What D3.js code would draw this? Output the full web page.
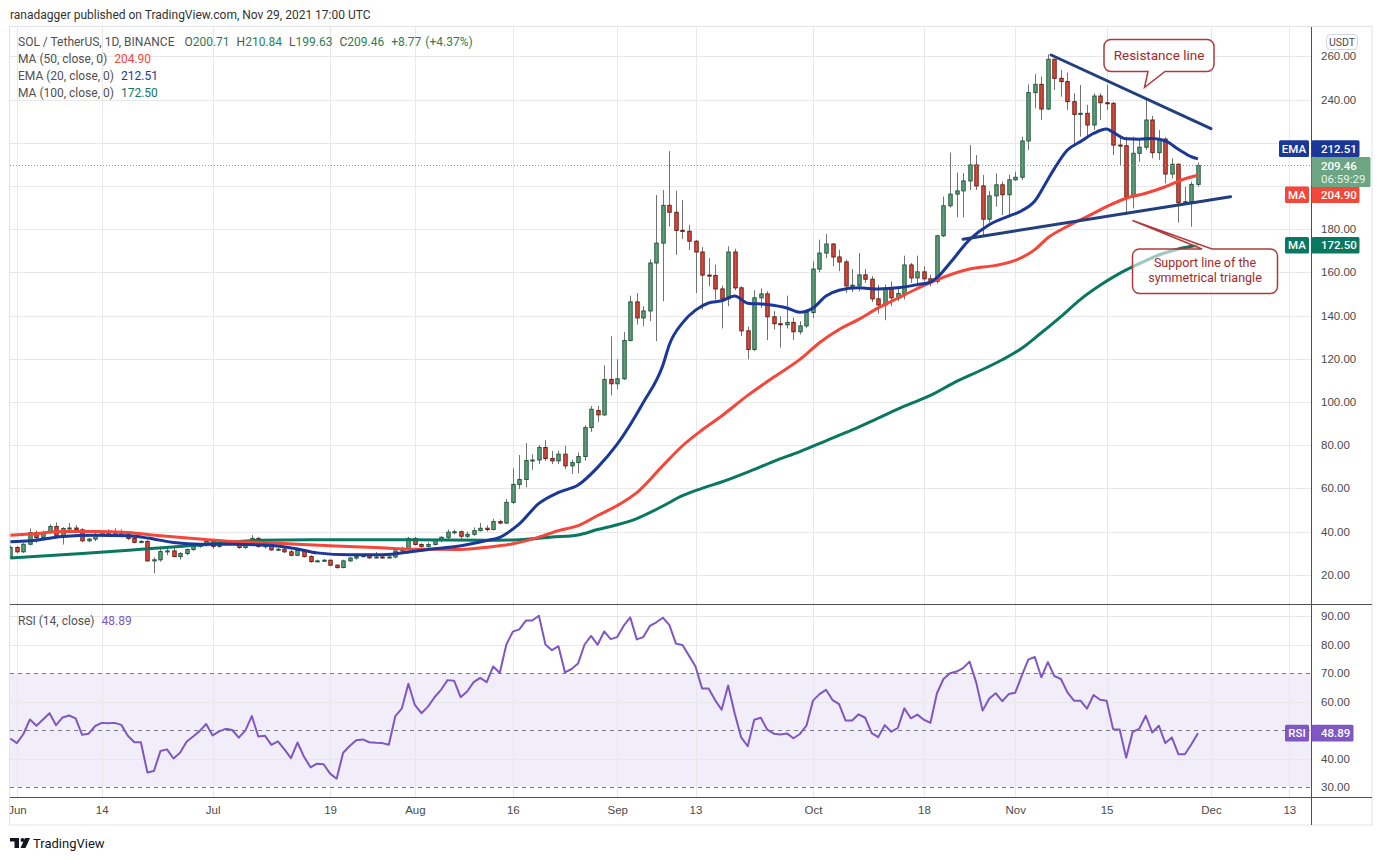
<!DOCTYPE html>
<html>
<head>
<meta charset="utf-8">
<title>SOL / TetherUS, 1D, BINANCE</title>
<script src="https://cdn.jsdelivr.net/npm/d3@7/dist/d3.min.js"></script>
<style>
  body { margin: 0; background: #fff; }
  svg { display: block; font-family: Roboto, "Liberation Sans", sans-serif; }
  .axis text { font-size: 11.5px; fill: #4a4a4a; }
</style>
</head>
<body>
<svg id="chart" width="1383" height="860"></svg>
<script>
// ---- data ----
// daily candles, first one is May 31 2021 (day -1, half cut by the left edge), last is Nov 29
var firstDay = -1;
var opens = [
  28.0,32.6,30.6,34.1,39.5,37.2,39.5,42.3,38.0,41.4,
  41.6,40.8,35.7,36.5,38.5,39.5,39.6,39.5,38.8,36.8,
  35.0,35.4,26.4,26.9,30.7,31.0,28.4,29.8,31.7,33.1,
  34.1,35.4,33.1,34.1,34.5,34.4,32.6,34.0,36.8,33.1,
  33.4,31.5,31.8,30.6,29.0,31.2,28.4,26.1,26.4,26.7,
  24.4,23.3,26.4,27.7,28.4,28.8,27.8,28.2,28.0,28.2,
  31.0,32.1,36.8,34.0,33.1,34.0,35.9,37.3,39.7,39.9,
  37.8,38.7,40.4,41.5,40.9,44.6,43.9,53.5,61.8,64.1,
  72.9,73.1,78.9,73.8,72.7,75.8,70.4,71.9,74.7,88.1,
  96.0,94.0,110.4,108.4,110.7,128.4,146.3,138.9,142.1,164.3,
  173.5,191.0,187.8,179.4,179.0,174.4,169.4,158.7,158.5,152.3,
  147.7,169.4,152.8,132.9,124.3,148.2,150.0,139.4,136.2,135.7,
  136.8,132.5,135.2,141.4,161.5,168.9,173.1,167.1,164.8,153.7,
  154.0,158.8,156.8,147.7,144.9,152.3,148.2,150.2,163.4,157.4,
  160.2,157.0,155.8,176.9,190.8,196.2,197.7,202.3,209.7,200.0,
  184.6,195.4,200.5,195.9,202.8,204.0,220.8,243.2,247.0,235.6,
  258.6,249.8,248.3,239.0,233.1,233.6,228.2,241.6,238.5,238.2,
  218.9,218.6,195.0,215.1,217.9,230.5,215.4,221.7,205.5,210.0,
  192.2,192.7,200.71
];
var highs = [
  33.5,33.2,34.6,41.4,40.5,40.4,43.4,44.2,42.0,43.9,
  43.0,41.5,37.0,39.5,40.0,41.0,41.5,41.0,39.5,37.5,
  36.0,36.0,28.0,33.0,32.5,33.0,30.5,32.0,34.0,34.5,
  36.5,36.0,35.0,35.5,35.5,35.0,35.0,38.3,37.5,34.5,
  33.8,32.5,32.8,31.5,32.0,31.8,29.0,27.0,27.3,27.0,
  24.8,27.0,28.2,29.2,29.5,29.5,30.5,29.0,29.0,31.5,
  33.0,37.5,37.5,34.5,35.0,36.5,37.8,40.9,40.8,40.5,
  40.0,41.9,44.0,42.8,45.9,45.5,55.0,69.2,75.4,80.9,
  75.8,80.0,82.3,77.3,77.3,79.7,73.2,76.6,89.2,98.1,
  98.1,116.9,130.4,119.7,132.3,149.2,150.4,144.3,166.1,195.8,
  198.1,216.1,197.7,193.5,182.0,175.0,171.7,166.6,163.5,153.8,
  172.0,170.9,153.5,134.8,151.7,152.5,151.2,142.0,139.7,149.2,
  139.0,137.4,142.8,165.1,175.1,177.7,173.5,170.5,165.8,161.5,
  168.9,161.5,158.2,154.2,154.3,155.8,153.5,167.7,164.3,167.7,
  162.8,158.9,177.4,195.1,215.4,206.2,205.9,218.9,214.3,205.1,
  197.6,205.8,202.0,205.1,206.6,222.8,247.0,251.7,250.6,260.9,
  258.9,253.7,252.4,242.9,246.7,237.5,242.9,242.9,246.7,239.0,
  222.8,222.8,222.8,221.2,240.5,232.4,225.9,222.5,212.8,210.5,
  199.6,202.0,210.84
];
var lows = [
  27.5,30.0,30.0,33.5,34.8,36.0,39.0,37.5,34.0,40.3,
  40.0,35.0,35.0,35.5,37.5,38.5,38.0,38.0,36.0,34.5,
  34.5,26.0,20.6,26.0,29.0,28.0,27.0,29.0,31.0,32.5,
  33.0,32.0,32.5,33.5,33.8,32.0,32.0,33.5,32.5,32.0,
  31.0,31.0,30.0,28.5,28.5,28.0,25.5,25.8,26.0,24.0,
  22.8,23.0,26.0,27.0,28.0,27.3,27.5,27.5,27.6,27.5,
  30.5,31.5,33.5,32.5,32.5,33.5,35.0,36.5,38.6,36.5,
  37.0,38.0,40.0,40.0,40.5,43.3,43.5,52.8,59.7,60.5,
  68.6,71.2,72.7,71.2,71.2,68.9,66.6,66.9,72.7,86.1,
  90.7,93.5,103.0,105.8,110.1,128.1,135.8,135.0,137.4,128.1,
  146.6,181.2,168.1,175.4,170.4,150.4,142.7,153.5,147.4,134.0,
  144.3,151.7,130.5,119.7,123.5,143.5,128.6,133.5,125.1,134.0,
  128.6,131.2,134.3,138.9,160.0,166.6,162.8,160.5,150.5,150.9,
  151.2,155.1,146.2,140.9,137.8,144.3,146.6,147.4,155.1,153.5,
  155.8,153.5,154.8,176.3,190.0,185.5,185.5,198.1,198.1,176.5,
  183.2,190.4,186.5,186.5,202.4,202.7,216.6,235.9,230.5,235.1,
  244.4,241.3,235.1,218.2,222.8,222.0,225.9,230.5,235.1,214.3,
  209.7,186.5,189.6,211.2,216.6,212.8,212.0,201.2,203.5,183.0,
  191.9,181.1,199.63
];
var closes = [
  32.6,30.6,34.1,39.5,37.2,39.5,42.3,38.0,41.4,41.6,
  40.8,35.7,36.5,38.5,39.5,39.6,39.5,38.8,36.8,35.0,
  35.4,26.4,26.9,30.7,31.0,28.4,29.8,31.7,33.1,34.1,
  35.4,33.1,34.1,34.5,34.4,32.6,34.0,36.8,33.1,33.4,
  31.5,31.8,30.6,29.0,31.2,28.4,26.1,26.4,26.7,24.4,
  23.3,26.4,27.7,28.4,28.8,27.8,28.2,28.0,28.2,31.0,
  32.1,36.8,34.0,33.1,34.0,35.9,37.3,39.7,39.9,37.8,
  38.7,40.4,41.5,40.9,44.6,43.9,53.5,61.8,64.1,72.9,
  73.1,78.9,73.8,72.7,75.8,70.4,71.9,74.7,88.1,96.6,
  94.0,110.4,108.4,110.7,128.4,146.3,138.9,142.1,164.3,173.5,
  191.0,187.8,179.4,179.0,174.4,169.4,158.7,158.5,152.3,147.7,
  169.4,152.8,132.9,124.3,148.2,150.0,139.4,136.2,135.7,136.8,
  132.5,135.2,141.4,161.5,168.9,173.1,167.1,164.8,153.7,154.0,
  158.8,156.8,147.7,144.9,152.3,148.2,150.2,163.4,157.4,160.2,
  157.0,155.8,176.9,190.8,196.2,197.7,202.3,209.7,200.0,184.6,
  195.4,200.5,195.9,202.8,204.0,220.8,243.2,247.0,235.6,258.6,
  249.8,248.3,239.0,233.1,233.6,228.2,241.6,238.5,238.2,218.9,
  218.6,195.0,215.1,217.9,230.5,215.4,221.7,205.5,210.0,192.2,
  192.7,200.69,209.46
];
// RSI(14) per candle, same days
var rsiValues = [
  47.0,45.4,48.6,53.7,51.5,53.7,55.9,51.7,54.4,55.1,
  54.1,48.3,48.7,51.4,52.5,52.4,52.5,51.8,48.0,45.7,
  45.7,35.1,35.6,42.6,43.2,40.0,42.0,45.9,47.7,49.6,
  52.1,48.1,49.5,50.4,50.0,47.3,49.8,54.9,47.7,48.0,
  44.8,46.0,43.2,40.1,45.6,40.6,36.9,38.2,38.0,34.7,
  32.9,42.0,44.4,46.4,46.7,45.7,45.5,45.4,44.8,54.9,
  57.6,66.2,58.7,55.9,58.2,61.5,64.1,67.5,67.3,61.5,
  63.5,66.8,68.3,66.8,72.3,70.0,79.9,84.5,85.3,88.4,
  88.4,90.1,80.0,78.0,79.4,70.2,71.4,73.3,80.0,83.0,
  79.9,84.6,81.9,82.6,86.6,89.5,81.8,82.6,86.5,87.8,
  89.4,86.8,80.3,79.8,76.1,72.3,64.6,64.6,60.5,57.1,
  65.6,55.9,47.4,44.3,53.6,54.3,50.1,48.7,48.4,48.8,
  47.1,48.6,51.5,60.3,62.6,64.1,60.5,59.1,53.3,53.3,
  55.5,54.3,48.9,47.5,51.7,49.4,50.7,57.6,54.1,55.4,
  53.6,52.5,62.9,67.9,69.9,70.5,71.7,74.0,66.8,56.8,
  61.0,62.9,60.1,62.6,63.1,69.1,74.7,75.6,68.5,73.8,
  68.9,67.9,63.2,60.3,60.3,57.5,62.3,60.6,60.3,50.3,
  50.2,40.3,49.4,50.4,55.0,49.1,51.5,45.4,47.4,41.5,
  41.5,45.0,48.89
];
// moving averages, [day since Jun 1, value]
var ema20 = [[-1,35.2],[2,35.7],[7,37.7],[12,38.3],[17,38.0],[20,37.0],[24,34.9],[28,34.1],[33,34.1],
  [38,33.7],[43,31.9],[46,30.1],[51,29.2],[56,29.2],[61,30.9],[64,32.0],[67,32.9],[72,35.8],[74,37.3],
  [75,39.0],[77,43.5],[80,53.0],[83,58.1],[86,61.5],[89,69.7],[92,80.4],[96,99.7],[99,117.0],[100,126.6],
  [102,136.6],[104,142.5],[106,145.8],[108,146.8],[110,149.0],[112,145.7],[115,145.1],[118,143.5],
  [120,141.5],[122,143.5],[124,149.0],[126,151.7],[129,152.8],[132,152.3],[135,152.8],[138,154.3],
  [140,155.5],[141,157.5],[143,164.3],[146,175.1],[149,182.0],[152,186.0],[154,188.5],[156,193.0],
  [158,203.0],[159,208.0],[161,216.6],[163,220.5],[165,224.3],[167,226.3],[168,224.8],[170,221.8],
  [172,221.6],[174,222.0],[176,220.8],[178,217.0],[180,213.5],[181,212.51]];
var ma50 = [[-1,38.3],[2,38.8],[7,40.0],[12,40.0],[17,39.5],[22,38.0],[28,36.5],[33,35.4],[38,34.9],
  [43,34.1],[48,33.4],[55,32.6],[61,31.8],[68,31.7],[72,32.7],[76,34.3],[80,37.4],[83,40.4],[86,42.7],
  [89,47.4],[92,52.0],[95,58.0],[99,70.5],[102,79.7],[105,87.0],[108,93.5],[112,103.0],[116,111.5],
  [120,119.7],[123,127.4],[126,133.5],[129,138.2],[132,143.5],[135,148.0],[138,152.5],[141,156.5],
  [146,161.5],[150,163.2],[153,165.5],[156,170.5],[158,176.0],[161,181.3],[164,185.8],[167,190.4],
  [170,194.3],[173,196.6],[176,199.6],[179,203.3],[181,204.90]];
var ma100 = [[-1,27.7],[10,29.8],[20,32.0],[29,34.0],[37,35.9],[45,36.2],[60,36.2],[72,36.0],[77,36.2],
  [82,37.4],[86,38.4],[89,40.9],[92,43.1],[95,46.0],[99,51.8],[102,56.6],[105,60.0],[108,62.9],
  [112,67.5],[116,72.5],[120,77.0],[124,82.0],[128,87.0],[132,92.5],[136,98.0],[140,103.0],[144,109.5],
  [148,115.0],[151,119.5],[154,124.8],[157,132.0],[160,139.5],[163,147.5],[166,154.0],[169,159.5],
  [172,164.0],[175,168.0],[178,170.8],[181,172.50]];
// drawn trend lines, [day, price]
var resistanceLine = [[158.5, 260.6], [183, 226.5]];
var supportLine = [[145, 175.3], [186, 195.0]];

var priceTicks = [20, 40, 60, 80, 100, 120, 140, 160, 180, 200, 220, 240, 260];
var rsiTicks = [30, 40, 50, 60, 70, 80, 90];
var timeTickDays = [0, 13, 30, 48, 61, 76, 92, 104, 122, 139, 153, 167, 183, 195];
var timeLabels = ["Jun", "14", "Jul", "19", "Aug", "16", "Sep", "13", "Oct", "18", "Nov", "15", "Dec", "13"];

// ---- layout ----
var left = 10, axisX = 1311, outerRight = 1372;
var paneTop = 27, paneBottom = 604, rsiTop = 605, rsiBottom = 797, boxBottom = 825;

var day0 = new Date(Date.UTC(2021, 5, 1));
function dayDate(d) { return new Date(+day0 + d * 864e5); }

var x = d3.scaleUtc().domain([dayDate(0), dayDate(195)]).range([16.9, 1289.3]);
var y = d3.scaleLinear().domain([20, 260]).range([574.7, 56.3]);
var yR = d3.scaleLinear().domain([30, 90]).range([787, 616]);
function xd(d) { return x(dayDate(d)); }
function px(v) { return Math.round(v) + 0.5; }

var upFill = "#5f9f7c", upLine = "#22593c", downFill = "#d94b3b", downLine = "#6b1d16";
var emaColor = "#1b3797", ma50Color = "#f4473a", ma100Color = "#0a7760", rsiColor = "#7e57c2";
var gridColor = "#e8e8eb", textGray = "#505050";

var svg = d3.select("#chart");
var defs = svg.append("defs");
defs.append("clipPath").attr("id", "clipPrice").append("rect")
  .attr("x", left).attr("y", paneTop).attr("width", axisX - left).attr("height", paneBottom - paneTop);
defs.append("clipPath").attr("id", "clipRsi").append("rect")
  .attr("x", left).attr("y", rsiTop).attr("width", axisX - left).attr("height", rsiBottom - rsiTop);
defs.append("clipPath").attr("id", "clipTime").append("rect")
  .attr("x", left).attr("y", rsiBottom).attr("width", axisX - left).attr("height", boxBottom - rsiBottom);

svg.append("rect").attr("width", 1383).attr("height", 860).attr("fill", "#fff");

// header line above the chart
svg.append("text").attr("x", 10).attr("y", 19)
  .attr("font-size", 12).attr("fill", "#333")
  .text("ranadagger published on TradingView.com, Nov 29, 2021 17:00 UTC");

// ---- grid ----
var grid = svg.append("g");
// RSI band first, grid goes over it
grid.append("rect").attr("x", left).attr("width", axisX - left)
  .attr("y", yR(70)).attr("height", yR(30) - yR(70)).attr("fill", "rgba(126,87,194,0.1)");
grid.selectAll("line.v").data(timeTickDays).join("line")
  .attr("x1", function(d) { return px(xd(d)); }).attr("x2", function(d) { return px(xd(d)); })
  .attr("y1", paneTop).attr("y2", rsiBottom)
  .attr("stroke", gridColor);
grid.selectAll("line.hp").data(priceTicks).join("line")
  .attr("x1", left).attr("x2", axisX)
  .attr("y1", function(d) { return px(y(d)); }).attr("y2", function(d) { return px(y(d)); })
  .attr("stroke", gridColor);
grid.selectAll("line.hr").data([40, 60, 80, 90]).join("line")
  .attr("x1", left).attr("x2", axisX)
  .attr("y1", function(d) { return px(yR(d)); }).attr("y2", function(d) { return px(yR(d)); })
  .attr("stroke", gridColor);
grid.selectAll("line.dash").data([30, 50, 70]).join("line")
  .attr("x1", left).attr("x2", axisX)
  .attr("y1", function(d) { return px(yR(d)); }).attr("y2", function(d) { return px(yR(d)); })
  .attr("stroke", "#787b86").attr("stroke-dasharray", "4,4");

// ---- price pane ----
var price = svg.append("g").attr("clip-path", "url(#clipPrice)");

var candleData = closes.map(function(c, i) {
  return { day: firstDay + i, o: opens[i], h: highs[i], l: lows[i], c: c };
});

var candle = price.append("g").selectAll("g").data(candleData).join("g");
candle.append("line")
  .attr("x1", function(d) { return px(xd(d.day)); })
  .attr("x2", function(d) { return px(xd(d.day)); })
  .attr("y1", function(d) { return y(d.h); })
  .attr("y2", function(d) { return y(d.l); })
  .attr("stroke", "#737373");
candle.append("rect")
  .attr("x", function(d) { return px(xd(d.day)) - 1.7; })
  .attr("width", 3.4)
  .attr("y", function(d) { return y(Math.max(d.o, d.c)); })
  .attr("height", function(d) { return Math.max(1, Math.abs(y(d.o) - y(d.c))); })
  .attr("fill", function(d) { return d.c >= d.o ? upFill : downFill; })
  .attr("stroke", function(d) { return d.c >= d.o ? upLine : downLine; })
  .attr("stroke-width", 1);

var lastClose = closes[closes.length - 1];
price.append("line")
  .attr("x1", left).attr("x2", axisX)
  .attr("y1", px(y(lastClose))).attr("y2", px(y(lastClose)))
  .attr("stroke", "#6ba583").attr("stroke-dasharray", "1,2");

var maLine = d3.line()
  .x(function(d) { return xd(d[0]); })
  .y(function(d) { return y(d[1]); })
  .curve(d3.curveMonotoneX);

price.append("path").datum(ma100).attr("d", maLine)
  .attr("fill", "none").attr("stroke", ma100Color).attr("stroke-width", 3);
price.append("path").datum(ma50).attr("d", maLine)
  .attr("fill", "none").attr("stroke", ma50Color).attr("stroke-width", 3);
price.append("path").datum(ema20).attr("d", maLine)
  .attr("fill", "none").attr("stroke", emaColor).attr("stroke-width", 3);

// trend lines drawn by the author
[resistanceLine, supportLine].forEach(function(seg) {
  price.append("line")
    .attr("x1", xd(seg[0][0])).attr("y1", y(seg[0][1]))
    .attr("x2", xd(seg[1][0])).attr("y2", y(seg[1][1]))
    .attr("stroke", "#213f7e").attr("stroke-width", 3).attr("stroke-linecap", "round");
});

// callouts
function roundedBox(x0, y0, x1, y1, r, tail) {
  // tail: {edge: "top"|"bottom", a, b, tx, ty}
  var p = d3.path();
  p.moveTo(x0 + r, y0);
  if (tail && tail.edge === "top") { p.lineTo(tail.a, y0); p.lineTo(tail.tx, tail.ty); p.lineTo(tail.b, y0); }
  p.lineTo(x1 - r, y0);
  p.arcTo(x1, y0, x1, y0 + r, r);
  p.lineTo(x1, y1 - r);
  p.arcTo(x1, y1, x1 - r, y1, r);
  if (tail && tail.edge === "bottom") { p.lineTo(tail.b, y1); p.lineTo(tail.tx, tail.ty); p.lineTo(tail.a, y1); }
  p.lineTo(x0 + r, y1);
  p.arcTo(x0, y1, x0, y1 - r, r);
  p.lineTo(x0, y0 + r);
  p.arcTo(x0, y0, x0 + r, y0, r);
  p.closePath();
  return p.toString();
}
var notes = svg.append("g");
notes.append("path")
  .attr("d", roundedBox(1104, 39.5, 1214, 71.5, 7, { edge: "bottom", a: 1148, b: 1165, tx: 1144.5, ty: 87.5 }))
  .attr("fill", "rgba(255,255,255,0.9)").attr("stroke", "#b03a3a").attr("stroke-width", 1.5);
notes.append("text").attr("x", 1159).attr("y", 60)
  .attr("text-anchor", "middle").attr("font-size", 13.5).attr("fill", "#a32a2a")
  .text("Resistance line");
notes.append("path")
  .attr("d", roundedBox(1132.5, 249, 1277.5, 293.5, 7, { edge: "top", a: 1202, b: 1212, tx: 1132.5, ty: 220.5 }))
  .attr("fill", "rgba(255,255,255,0.6)").attr("stroke", "#b03a3a").attr("stroke-width", 1.5);
notes.append("text").attr("text-anchor", "middle").attr("font-size", 12.5).attr("fill", "#a32a2a")
  .selectAll("tspan").data(["Support line of the", "symmetrical triangle"]).join("tspan")
  .attr("x", 1205).attr("y", function(d, i) { return 266.5 + i * 15; })
  .text(function(d) { return d; });

// ---- RSI pane ----
var rsiPane = svg.append("g").attr("clip-path", "url(#clipRsi)");
var rsiLine = d3.line()
  .x(function(d, i) { return xd(firstDay + i); })
  .y(function(d) { return yR(d); });
rsiPane.append("path").datum(rsiValues).attr("d", rsiLine)
  .attr("fill", "none").attr("stroke", rsiColor).attr("stroke-width", 2).attr("stroke-linejoin", "round");

// ---- frame ----
var frame = svg.append("g");
frame.append("rect").attr("x", 9.5).attr("y", 26.5).attr("width", outerRight - 9.5).attr("height", boxBottom - 26.5)
  .attr("fill", "none").attr("stroke", "#e0e3eb");
frame.append("line").attr("x1", left).attr("x2", outerRight).attr("y1", 604.5).attr("y2", 604.5).attr("stroke", "#4f4f4f");
frame.append("line").attr("x1", left).attr("x2", outerRight).attr("y1", 797.5).attr("y2", 797.5).attr("stroke", "#4f4f4f");
frame.append("line").attr("x1", axisX + 0.5).attr("x2", axisX + 0.5).attr("y1", 27).attr("y2", boxBottom).attr("stroke", "#4f4f4f");

// ---- tag positions on the price scale ----
var fmt = d3.format(".2f");
var lastEma = ema20[ema20.length - 1][1], lastMa50 = ma50[ma50.length - 1][1], lastMa100 = ma100[ma100.length - 1][1];
var lastRsi = rsiValues[rsiValues.length - 1];
var closeY = y(lastClose);
var closeTop = closeY - 8.5, closeBottom = closeY + 21.5;
// push the moving average tags away from the last price box
var emaY = Math.min(y(lastEma), closeTop - 8.3);
var ma50Y = Math.max(y(lastMa50), closeBottom + 7.8);
var priceTagSpans = [[emaY - 8.3, emaY + 8.3], [closeTop, closeBottom], [ma50Y - 8.3, ma50Y + 8.3],
  [y(lastMa100) - 8.3, y(lastMa100) + 8.3]];
var rsiTagSpans = [[yR(lastRsi) - 8.3, yR(lastRsi) + 8.3]];
function covered(yc, spans) {
  return spans.some(function(s) { return yc + 6 > s[0] && yc - 6 < s[1]; });
}

// ---- axes ----
var priceAxis = svg.append("g").attr("class", "axis")
  .attr("transform", "translate(" + axisX + ",0)")
  .call(d3.axisRight(y).tickSize(0).tickPadding(10).tickFormat(d3.format(".2f"))
    .tickValues(priceTicks.filter(function(v) { return !covered(y(v), priceTagSpans); })));
priceAxis.select(".domain").remove();

var rsiAxis = svg.append("g").attr("class", "axis")
  .attr("transform", "translate(" + axisX + ",0)")
  .call(d3.axisRight(yR).tickSize(0).tickPadding(10).tickFormat(d3.format(".2f"))
    .tickValues(rsiTicks.filter(function(v) { return !covered(yR(v), rsiTagSpans); })));
rsiAxis.select(".domain").remove();

var timeAxis = svg.append("g").attr("class", "axis").attr("clip-path", "url(#clipTime)")
  .append("g").attr("transform", "translate(0," + rsiBottom + ")")
  .call(d3.axisBottom(x).tickValues(timeTickDays.map(dayDate)).tickSize(0).tickPadding(9)
    .tickFormat(function(d, i) { return timeLabels[i]; }));
timeAxis.select(".domain").remove();

// USDT badge
svg.append("rect").attr("x", 1326.5).attr("y", 34.5).attr("width", 31).attr("height", 15).attr("rx", 4)
  .attr("fill", "#fff").attr("stroke", "#d1d4dc");
svg.append("text").attr("x", 1342).attr("y", 45.5).attr("text-anchor", "middle")
  .attr("font-size", 10.5).attr("fill", "#4a4a4a").text("USDT");

// ---- tags ----
function tag(yc, name, nameX0, value, color, valueW) {
  var g = svg.append("g");
  if (name) {
    g.append("rect").attr("x", nameX0).attr("y", yc - 8.3).attr("width", axisX - 2 - nameX0).attr("height", 16.6)
      .attr("rx", 1.5).attr("fill", color);
    g.append("text").attr("x", (nameX0 + axisX - 2) / 2).attr("y", yc + 4).attr("text-anchor", "middle")
      .attr("font-size", 11.5).attr("font-weight", 500).attr("fill", "#fff").text(name);
  }
  g.append("rect").attr("x", axisX + 0.5).attr("y", yc - 8.3).attr("width", valueW).attr("height", 16.6)
    .attr("rx", 1.5).attr("fill", color);
  g.append("text").attr("x", axisX + 10).attr("y", yc + 4)
    .attr("font-size", 11.5).attr("font-weight", 500).attr("fill", "#fff").text(fmt(value));
}

tag(emaY, "EMA", 1279, lastEma, emaColor, 48);
tag(ma50Y, "MA", 1285, lastMa50, ma50Color, 48);
tag(y(lastMa100), "MA", 1285, lastMa100, ma100Color, 48);

svg.append("rect").attr("x", axisX + 0.5).attr("y", closeTop).attr("width", 59).attr("height", closeBottom - closeTop)
  .attr("rx", 1.5).attr("fill", "#6ba583");
svg.append("text").attr("x", axisX + 10).attr("y", closeY + 4.5)
  .attr("font-size", 11.5).attr("font-weight", 500).attr("fill", "#fff").text(fmt(lastClose));
svg.append("text").attr("x", axisX + 10).attr("y", closeY + 17.5)
  .attr("font-size", 11.5).attr("fill", "#e6f2ea").text("06:59:29");

tag(yR(lastRsi), "RSI", 1285, lastRsi, rsiColor, 42);

// ---- legends ----
function legendRow(yPos, parts) {
  var cx = 18;
  parts.forEach(function(p) {
    cx += p.gap || 0;
    var t = svg.append("text").attr("x", cx).attr("y", yPos)
      .attr("font-size", 12).attr("fill", p.color || textGray).text(p.text);
    cx += t.node().getComputedTextLength();
  });
}
var n = closes.length;
var lastO = opens[n - 1], lastH = highs[n - 1], lastL = lows[n - 1];
var change = lastClose - closes[n - 2];
var pct = change / closes[n - 2] * 100;
var ohlcGreen = "#2e7d57";
legendRow(46, [
  { text: "SOL / TetherUS, 1D, BINANCE" },
  { text: "O", gap: 10 }, { text: fmt(lastO), color: ohlcGreen },
  { text: "H", gap: 7 }, { text: fmt(lastH), color: ohlcGreen },
  { text: "L", gap: 7 }, { text: fmt(lastL), color: ohlcGreen },
  { text: "C", gap: 7 }, { text: fmt(lastClose), color: ohlcGreen },
  { text: (change >= 0 ? "+" : "") + fmt(change), gap: 7, color: ohlcGreen },
  { text: "(" + (pct >= 0 ? "+" : "") + fmt(pct) + "%)", gap: 4, color: ohlcGreen }
]);
legendRow(63, [{ text: "MA (50, close, 0)" }, { text: fmt(lastMa50), gap: 7, color: ma50Color }]);
legendRow(80, [{ text: "EMA (20, close, 0)" }, { text: fmt(lastEma), gap: 7, color: emaColor }]);
legendRow(96.5, [{ text: "MA (100, close, 0)" }, { text: fmt(lastMa100), gap: 7, color: ma100Color }]);
legendRow(625, [{ text: "RSI (14, close)" }, { text: fmt(lastRsi), gap: 7, color: rsiColor }]);

// ---- TradingView mark ----
var logo = svg.append("g").attr("fill", "#131722");
logo.append("rect").attr("x", 10).attr("y", 838).attr("width", 9).attr("height", 3.5);
logo.append("rect").attr("x", 14.5).attr("y", 838).attr("width", 4.5).attr("height", 10);
logo.append("circle").attr("cx", 22.5).attr("cy", 840).attr("r", 2);
logo.append("path").attr("d", "M25,838 L30,838 L25.5,848 L20.5,848 Z");
svg.append("text").attr("x", 33).attr("y", 847.5).attr("font-size", 13).attr("fill", "#131722").text("TradingView");
</script>
</body>
</html>
